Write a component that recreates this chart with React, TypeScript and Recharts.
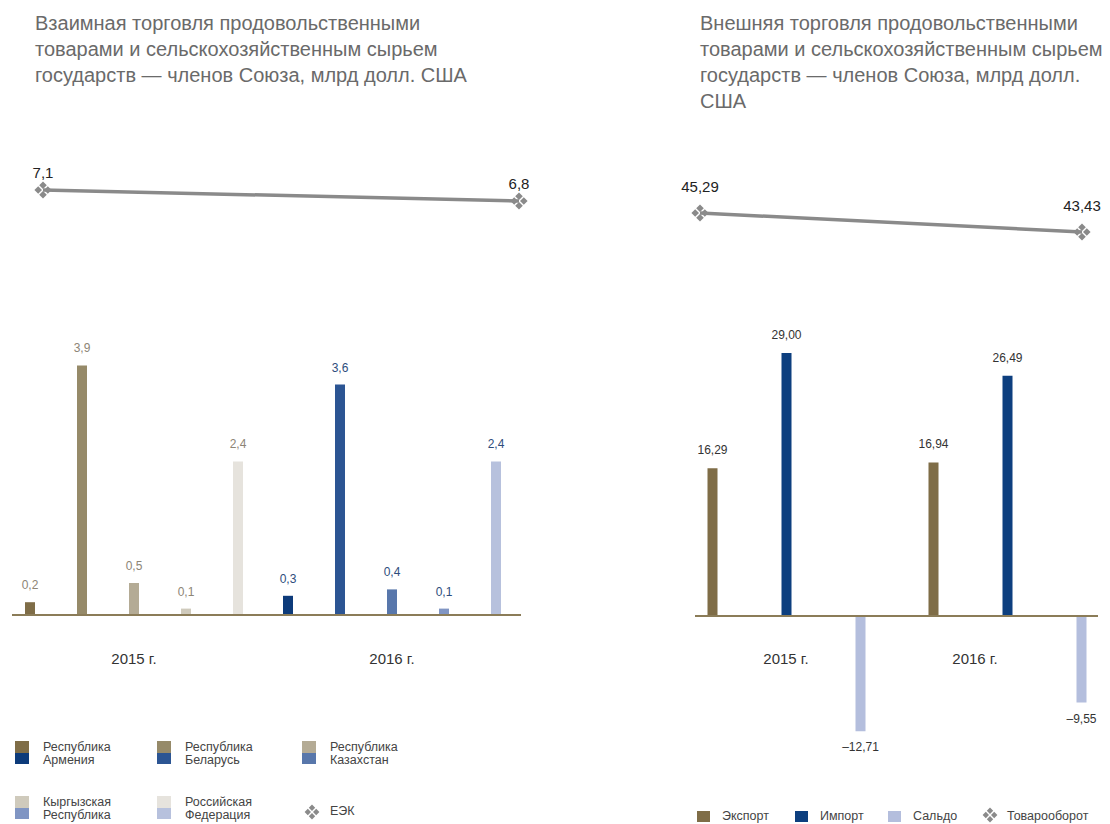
import React from "react";
import {
  BarChart,
  Bar,
  Cell,
  LabelList,
  LineChart,
  Line,
  XAxis,
  YAxis,
  ReferenceLine,
} from "recharts";

const FONT = '"Liberation Sans", Arial, Helvetica, sans-serif';

// Взаимная торговля, млрд долл. США
const years = ["2015 г.", "2016 г."];
const armenia = [0.2, 0.3];
const belarus = [3.9, 3.6];
const kazakhstan = [0.5, 0.4];
const kyrgyzstan = [0.1, 0.1];
const russia = [2.4, 2.4];
const eek = [7.1, 6.8];

// Внешняя торговля, млрд долл. США
const exportValues = [16.29, 16.94];
const importValues = [29.0, 26.49];
const saldoValues = [-12.71, -9.55];
const turnoverValues = [45.29, 43.43];

const countries = [
  { key: "armenia", label: ["Республика", "Армения"], colors: ["#7f6d47", "#0d3b7a"] },
  { key: "belarus", label: ["Республика", "Беларусь"], colors: ["#968a69", "#2c5593"] },
  { key: "kazakhstan", label: ["Республика", "Казахстан"], colors: ["#b4ab95", "#5877ab"] },
  { key: "kyrgyzstan", label: ["Кыргызская", "Республика"], colors: ["#cfcabc", "#8095c3"] },
  { key: "russia", label: ["Российская", "Федерация"], colors: ["#e6e3dd", "#b7c1dd"] },
];

const flows = [
  { key: "export", label: "Экспорт", color: "#7f6d47" },
  { key: "import", label: "Импорт", color: "#0d3f7f" },
  { key: "saldo", label: "Сальдо", color: "#b4bedd" },
];

const mutualData = years.map((year, i) => ({
  year,
  armenia: armenia[i],
  belarus: belarus[i],
  kazakhstan: kazakhstan[i],
  kyrgyzstan: kyrgyzstan[i],
  russia: russia[i],
  eek: eek[i],
}));

const externalData = years.map((year, i) => ({
  year,
  export: exportValues[i],
  import: importValues[i],
  saldo: saldoValues[i],
  turnover: turnoverValues[i],
}));

const AXIS_COLOR = "#8b7c58";
const LINE_COLOR = "#8a8a8a";

const fmt = (v: number, digits: number) =>
  (v < 0 ? "–" : "") + Math.abs(v).toFixed(digits).replace(".", ",");

// four small diamonds, the ЕЭК / Товарооборот marker
function Clover({ cx, cy, size = 3.8, gap = 4.8, fill = LINE_COLOR }: any) {
  const d = [
    [0, -gap],
    [-gap, 0],
    [gap, 0],
    [0, gap],
  ]
    .map(([dx, dy]) => {
      const x = cx + dx;
      const y = cy + dy;
      return `M${x},${y - size}L${x + size},${y}L${x},${y + size}L${x - size},${y}Z`;
    })
    .join("");
  return <path d={d} fill={fill} />;
}

const barLabel = (colors: string[] | string, digits: number, above = 17, below = 16) => (props: any) => {
  const vb = props.viewBox || props;
  const value = Number(props.value);
  const index = props.index ?? 0;
  const x = vb.x + vb.width / 2;
  const top = Math.min(vb.y, vb.y + vb.height);
  const bottom = Math.max(vb.y, vb.y + vb.height);
  const y = value < 0 ? bottom + below : top - above;
  const fill = Array.isArray(colors) ? colors[index] : colors;
  return (
    <text
      x={x}
      y={y}
      textAnchor="middle"
      dominantBaseline="central"
      fontSize={12}
      fill={fill}
      fontFamily={FONT}
    >
      {fmt(value, digits)}
    </text>
  );
};

const pointLabel = (digits: number, above: number, fontSize: number) => (props: any) => {
  const vb = props.viewBox || props;
  const x = props.x ?? vb.x;
  const y = props.y ?? vb.y;
  return (
    <text
      x={x}
      y={y - above}
      textAnchor="middle"
      dominantBaseline="central"
      fontSize={fontSize}
      fill="#222"
      fontFamily={FONT}
    >
      {fmt(Number(props.value), digits)}
    </text>
  );
};

const yearTick = (dy: number, shifts: number[] = []) => (p: any) => (
  <text
    x={p.x + (shifts[p.index] || 0)}
    y={p.y + dy}
    textAnchor="middle"
    dominantBaseline="central"
    fontSize={15}
    fill="#333"
    fontFamily={FONT}
  >
    {p.payload.value}
  </text>
);

const zeroLine = (insetLeft: number, insetRight: number) => (p: any) => (
  <line
    x1={p.x1 + insetLeft}
    x2={p.x2 - insetRight}
    y1={p.y1}
    y2={p.y2}
    stroke={AXIS_COLOR}
    strokeWidth={2}
  />
);

const titleStyle: React.CSSProperties = {
  position: "absolute",
  top: 10,
  fontSize: 20,
  lineHeight: "26px",
  color: "#6a6a6a",
  whiteSpace: "nowrap",
};

const legendText: React.CSSProperties = {
  position: "absolute",
  fontSize: 12.5,
  lineHeight: "13px",
  color: "#444",
  whiteSpace: "nowrap",
};

function MutualLegend() {
  const cols = [15, 157, 302];
  const rows = [741, 796];
  return (
    <>
      {countries.map((c, i) => {
        const left = cols[i % 3];
        const top = rows[Math.floor(i / 3)];
        return (
          <React.Fragment key={c.key}>
            <div style={{ position: "absolute", left, top, width: 14 }}>
              <div style={{ height: 11.5, background: c.colors[0] }} />
              <div style={{ height: 11.5, background: c.colors[1] }} />
            </div>
            <div style={{ ...legendText, left: left + 28, top }}>
              {c.label[0]}
              <br />
              {c.label[1]}
            </div>
          </React.Fragment>
        );
      })}
      <svg style={{ position: "absolute", left: 302, top: 802 }} width={20} height={20}>
        <Clover cx={10} cy={10} size={3.2} gap={4.2} />
      </svg>
      <div style={{ ...legendText, left: 330, top: 805 }}>ЕЭК</div>
    </>
  );
}

function ExternalLegend() {
  const swatchX = [697, 795, 888];
  return (
    <>
      {flows.map((f, i) => (
        <React.Fragment key={f.key}>
          <div
            style={{
              position: "absolute",
              left: swatchX[i],
              top: 811,
              width: 13,
              height: 11,
              background: f.color,
            }}
          />
          <div style={{ ...legendText, left: swatchX[i] + 25, top: 810 }}>{f.label}</div>
        </React.Fragment>
      ))}
      <svg style={{ position: "absolute", left: 980, top: 805 }} width={20} height={20}>
        <Clover cx={10} cy={10} size={3.2} gap={4.2} />
      </svg>
      <div style={{ ...legendText, left: 1007, top: 810 }}>Товарооборот</div>
    </>
  );
}

export default function App() {
  return (
    <div
      style={{
        position: "relative",
        width: 1110,
        height: 824,
        overflow: "hidden",
        fontFamily: FONT,
        background: "#fff",
      }}
    >
      <style>{`body{margin:0;}`}</style>

      <div style={{ ...titleStyle, left: 35 }}>
        Взаимная торговля продовольственными
        <br />
        товарами и сельскохозяйственным сырьем
        <br />
        государств — членов Союза, млрд долл. США
      </div>
      <div style={{ ...titleStyle, left: 700 }}>
        Внешняя торговля продовольственными
        <br />
        товарами и сельскохозяйственным сырьем
        <br />
        государств — членов Союза, млрд долл.
        <br />
        США
      </div>

      {/* ЕЭК line */}
      <div style={{ position: "absolute", left: 0, top: 140 }}>
        <LineChart
          width={560}
          height={100}
          data={mutualData}
          margin={{ top: 46.33, right: 41, left: 43, bottom: 31.67 }}
        >
          <XAxis dataKey="year" hide scale="point" padding={{ left: 0, right: 0 }} />
          <YAxis hide domain={[6.6, 7.2]} />
          <Line
            dataKey="eek"
            stroke={LINE_COLOR}
            strokeWidth={3.5}
            isAnimationActive={false}
            dot={(p: any) => <Clover key={p.index} cx={p.cx} cy={p.cy} />}
            activeDot={false}
          >
            <LabelList dataKey="eek" content={pointLabel(1, 17, 15)} />
          </Line>
        </LineChart>
      </div>

      {/* mutual trade bars */}
      <div style={{ position: "absolute", left: 0, top: 300 }}>
        <BarChart
          width={530}
          height={400}
          data={mutualData}
          margin={{ top: 59, right: 9, left: 5, bottom: 55 }}
          barGap={42}
        >
          <XAxis
            dataKey="year"
            height={30}
            axisLine={false}
            tickLine={false}
            tick={yearTick(35)}
          />
          <YAxis hide domain={[0, 4]} />
          <ReferenceLine y={0} shape={zeroLine(7, 0)} />
          {countries.map((c) => (
            <Bar key={c.key} dataKey={c.key} barSize={10} isAnimationActive={false}>
              {years.map((y, i) => (
                <Cell key={y} fill={c.colors[i]} />
              ))}
              <LabelList dataKey={c.key} content={barLabel(["#8d8576", "#2e4d7c"], 1)} />
            </Bar>
          ))}
        </BarChart>
      </div>

      {/* Товарооборот line */}
      <div style={{ position: "absolute", left: 600, top: 140 }}>
        <LineChart
          width={510}
          height={120}
          data={externalData}
          margin={{ top: 70.85, right: 28, left: 100, bottom: 23.61 }}
        >
          <XAxis dataKey="year" hide scale="point" padding={{ left: 0, right: 0 }} />
          <YAxis hide domain={[43, 45.5]} />
          <Line
            dataKey="turnover"
            stroke={LINE_COLOR}
            strokeWidth={3.5}
            isAnimationActive={false}
            dot={(p: any) => <Clover key={p.index} cx={p.cx} cy={p.cy} />}
            activeDot={false}
          >
            <LabelList dataKey="turnover" content={pointLabel(2, 26, 15)} />
          </Line>
        </LineChart>
      </div>

      {/* external trade bars */}
      <div style={{ position: "absolute", left: 560, top: 300 }}>
        <BarChart
          width={560}
          height={500}
          data={externalData}
          margin={{ top: 44, right: 2.5, left: 115.5, bottom: 18 }}
          barGap={64}
        >
          <XAxis
            dataKey="year"
            height={30}
            axisLine={false}
            tickLine={false}
            tick={yearTick(-102, [0, -32])}
          />
          <YAxis hide domain={[-15, 30]} />
          <ReferenceLine y={0} shape={zeroLine(19.5, 19.5)} />
          {flows.map((f) => (
            <Bar key={f.key} dataKey={f.key} fill={f.color} barSize={10} isAnimationActive={false}>
              <LabelList dataKey={f.key} content={barLabel("#333", 2, 18, 16)} />
            </Bar>
          ))}
        </BarChart>
      </div>

      <MutualLegend />
      <ExternalLegend />
    </div>
  );
}
